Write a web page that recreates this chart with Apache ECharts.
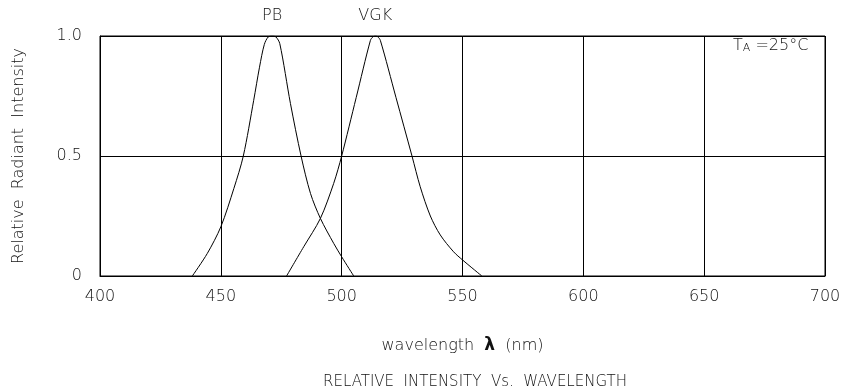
<!DOCTYPE html>
<html>
<head>
<meta charset="UTF-8">
<title>Relative Intensity vs Wavelength</title>
<script src="https://cdn.jsdelivr.net/npm/echarts@6/dist/echarts.min.js"></script>
<style>
  html, body { margin: 0; padding: 0; background: #fff; }
  #main { width: 844px; height: 390px; }
</style>
</head>
<body>
<div id="main"></div>
<script type="text/javascript">
    // readings
    var pbNm  = [438.2, 444.4, 450, 455.4, 459.3, 463.6, 466.0, 468.0, 469.6, 471.2, 472.8, 474.4, 478.8, 483.2, 487.1, 491.2, 496.7, 500, 505];
    var pbVal = [0, 0.094, 0.205, 0.365, 0.5, 0.732, 0.87, 0.965, 0.996, 1.0, 0.996, 0.968, 0.719, 0.5, 0.344, 0.24, 0.136, 0.08, 0];

    var vgkNm  = [477.2, 484.3, 491.2, 496.7, 500, 506.0, 511.9, 513.0, 513.9, 514.9, 516.0, 522.5, 529.1, 532.5, 536.7, 540.8, 546.3, 550, 558];
    var vgkVal = [0, 0.122, 0.24, 0.386, 0.5, 0.743, 0.982, 0.997, 1.0, 0.997, 0.982, 0.743, 0.5, 0.372, 0.25, 0.171, 0.101, 0.067, 0];

    var xTicks = [400, 450, 500, 550, 600, 650, 700];
    var yTicks = [0, 0.5, 1.0];

    function pairs(xs, ys) {
        var out = [];
        for (var i = 0; i < xs.length; i++) out.push([xs[i], ys[i]]);
        return out;
    }

    var FONT = 'DejaVu Sans';
    var txt = { color: '#111', fontSize: 16, fontWeight: 200, fontFamily: FONT };

    function peakMark(name, xs, ys) {
        var k = ys.indexOf(Math.max.apply(null, ys));
        return {
            symbol: 'circle', symbolSize: 0,
            label: Object.assign({ show: true, formatter: name, position: 'top', distance: 12 }, txt),
            data: [{ coord: [xs[k], ys[k]] }]
        };
    }

    var myChart = echarts.init(document.getElementById('main'));
    myChart.setOption({
        animation: false,
        title: {
            text: 'RELATIVE  INTENSITY  Vs.  WAVELENGTH',
            left: 470, top: 370, textAlign: 'center',
            textStyle: { color: '#111', fontSize: 15, fontWeight: 200, fontFamily: FONT }
        },
        graphic: [{
            type: 'text', left: 733, top: 38,
            style: {
                text: '{t|T}{a|A} =25°C', fill: '#111', fontSize: 16, fontWeight: 200, fontFamily: FONT,
                rich: { t: { fontSize: 16, fontWeight: 200, fontFamily: FONT }, a: { fontSize: 11, fontWeight: 200, fontFamily: FONT, verticalAlign: 'bottom' } }
            }
        }],
        grid: { left: 100, right: 19, top: 36, bottom: 114, show: true, borderColor: '#000', borderWidth: 1 },
        xAxis: {
            type: 'value', min: 400, max: 700, interval: 50,
            name: 'wavelength  {b|λ}  (nm)', nameLocation: 'middle', nameGap: 61,
            nameTextStyle: Object.assign({ rich: { b: { fontWeight: 'bold', fontSize: 17, color: '#111', fontFamily: FONT } } }, txt),
            axisLine: { lineStyle: { color: '#000' } },
            axisTick: { show: false },
            axisLabel: Object.assign({ margin: 13 }, txt),
            splitLine: { show: true, lineStyle: { color: '#000', width: 1 } }
        },
        yAxis: {
            type: 'value', min: 0, max: 1, interval: 0.5,
            name: 'Relative  Radiant  Intensity', nameLocation: 'middle', nameGap: 73,
            nameTextStyle: txt,
            axisLine: { show: true, lineStyle: { color: '#000' } },
            axisTick: { show: false },
            axisLabel: Object.assign({
                margin: 18,
                formatter: function (v) { return v === 0 ? '0' : v.toFixed(1); }
            }, txt),
            splitLine: { show: true, lineStyle: { color: '#000', width: 1 } }
        },
        series: [{
            name: 'PB', type: 'line', smooth: 0.3, showSymbol: false,
            lineStyle: { color: '#000', width: 1 },
            data: pairs(pbNm, pbVal),
            markPoint: peakMark('PB', pbNm, pbVal)
        }, {
            name: 'VGK', type: 'line', smooth: 0.3, showSymbol: false,
            lineStyle: { color: '#000', width: 1 },
            data: pairs(vgkNm, vgkVal),
            markPoint: peakMark('VGK', vgkNm, vgkVal)
        }]
    });
</script>
</body>
</html>
